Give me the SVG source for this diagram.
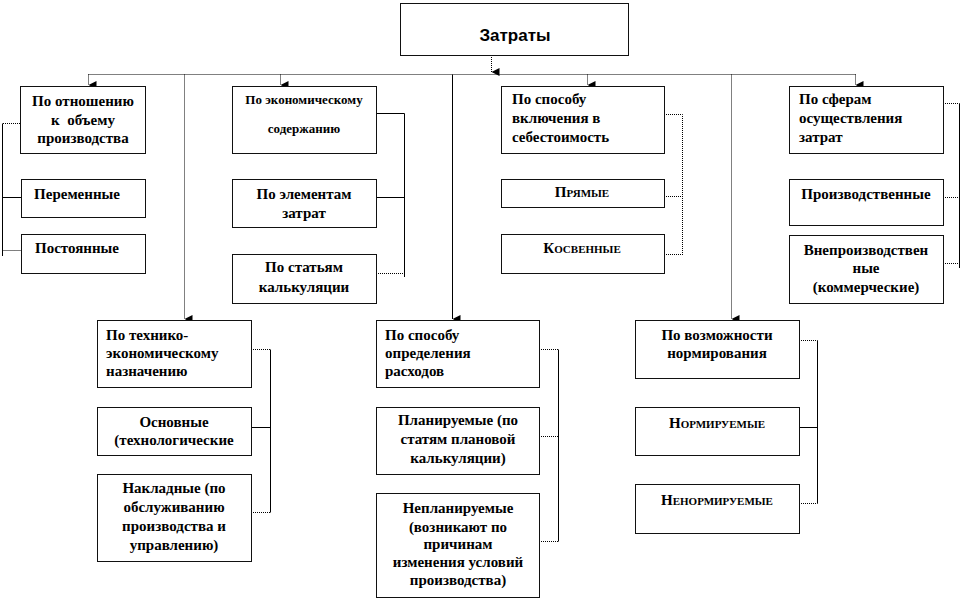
<svg xmlns="http://www.w3.org/2000/svg" width="962" height="602" viewBox="0 0 962 602">
<style>
.bx{fill:#fff;stroke:#111;stroke-width:1}
.t{font-family:"Liberation Serif","DejaVu Serif","Times New Roman",serif;font-weight:bold;font-size:15px;fill:#000}
.c{text-anchor:middle}
.sc{font-variant:small-caps}
.s{fill:none;stroke:#000;stroke-width:1}
.d{fill:none;stroke:#000;stroke-width:1;stroke-dasharray:1 1}
</style>
<defs>
<marker id="ah" viewBox="0 0 8 8" refX="4" refY="8" markerWidth="8" markerHeight="8" markerUnits="userSpaceOnUse" orient="auto-start-reverse">
<path d="M0,0 L8,0 L4,8 Z" fill="#000"/>
</marker>
</defs>
<g id="connectors">
<path class="d" d="M491.5,55 V72" marker-end="url(#ah)"/>
<path class="d" d="M88.5,74.5 H855.5"/>
<path class="d" d="M88.5,74.5 V85" marker-end="url(#ah)"/>
<path class="d" d="M280.5,74.5 V85" marker-end="url(#ah)"/>
<path class="d" d="M587.5,74.5 V85" marker-end="url(#ah)"/>
<path class="d" d="M855.5,74.5 V85" marker-end="url(#ah)"/>
<path class="d" d="M184.5,74.5 V319" marker-end="url(#ah)"/>
<path class="s" d="M452.5,74.5 V319" marker-end="url(#ah)"/>
<path class="d" d="M731.5,74.5 V319" marker-end="url(#ah)"/>
<path class="d" d="M20,123.5 H2.5"/>
<path class="s" d="M2.5,123.5 V256"/>
<path class="s" d="M2.5,197.5 H21"/>
<path class="d" d="M2.5,250.5 H21"/>
<path class="s" d="M376,113.5 H404.5 V277"/>
<path class="s" d="M376,197.5 H404.5"/>
<path class="d" d="M376,273.5 H404.5"/>
<path class="d" d="M664,114.5 H682.5 V256"/>
<path class="d" d="M664,196.5 H682.5"/>
<path class="d" d="M664,254.5 H682.5"/>
<path class="d" d="M943,103.5 H959.5"/>
<path class="s" d="M959.5,103.5 V268"/>
<path class="d" d="M943,197.5 H959.5"/>
<path class="d" d="M943,263.5 H959.5"/>
<path class="d" d="M251,349.5 H270.5"/>
<path class="s" d="M270.5,349.5 V512.5"/>
<path class="s" d="M251,427.5 H270.5"/>
<path class="d" d="M251,512.5 H270.5"/>
<path class="d" d="M539,349.5 H558.5"/>
<path class="s" d="M558.5,349.5 V541.5"/>
<path class="d" d="M539,436.5 H558.5"/>
<path class="d" d="M539,541.5 H558.5"/>
<path class="d" d="M799,340.5 H817.5"/>
<path class="s" d="M817.5,340.5 V503.5"/>
<path class="s" d="M799,427.5 H817.5"/>
<path class="d" d="M799,503.5 H817.5"/>
</g>
<g id="root">
<rect class="bx" x="400.5" y="3.5" width="228" height="52"/>
<text x="515" y="41" style="font-family:'Liberation Sans',Arial,sans-serif;font-weight:bold;font-size:17px" text-anchor="middle">Затраты</text>
</g>
<g id="a">
<rect class="bx" x="20.5" y="86.5" width="125" height="67"/>
<text class="t c" x="83" y="106">По отношению</text>
<text class="t c" x="83" y="125" xml:space="preserve">к  объему</text>
<text class="t c" x="83" y="143">производства</text>
</g>
<g id="a1">
<rect class="bx" x="21.5" y="179.5" width="124" height="38"/>
<text class="t c" x="77" y="199">Переменные</text>
</g>
<g id="a2">
<rect class="bx" x="21.5" y="234.5" width="124" height="39"/>
<text class="t c" x="77" y="253">Постоянные</text>
</g>
<g id="b">
<rect class="bx" x="232.5" y="86.5" width="144" height="67"/>
<text class="t c" x="304" y="104" style="font-size:13px">По экономическому</text>
<text class="t c" x="304" y="133" style="font-size:13px">содержанию</text>
</g>
<g id="b1">
<rect class="bx" x="232.5" y="179.5" width="144" height="48"/>
<text class="t c" x="304" y="199">По элементам</text>
<text class="t c" x="304" y="218">затрат</text>
</g>
<g id="b2">
<rect class="bx" x="232.5" y="254.5" width="144" height="49"/>
<text class="t c" x="304" y="272">По статьям</text>
<text class="t c" x="304" y="292">калькуляции</text>
</g>
<g id="c">
<rect class="bx" x="501.5" y="86.5" width="163" height="67"/>
<text class="t" x="512" y="104">По способу</text>
<text class="t" x="512" y="123">включения в</text>
<text class="t" x="512" y="142">себестоимость</text>
</g>
<g id="c1">
<rect class="bx" x="501.5" y="179.5" width="163" height="28"/>
<text class="t c sc" x="582" y="197">Прямые</text>
</g>
<g id="c2">
<rect class="bx" x="501.5" y="234.5" width="163" height="39"/>
<text class="t c sc" x="582" y="253">Косвенные</text>
</g>
<g id="d">
<rect class="bx" x="789.5" y="86.5" width="154" height="67"/>
<text class="t" x="799" y="104">По сферам</text>
<text class="t" x="799" y="123">осуществления</text>
<text class="t" x="799" y="142">затрат</text>
</g>
<g id="d1">
<rect class="bx" x="789.5" y="179.5" width="154" height="46"/>
<text class="t c" x="866" y="199">Производственные</text>
</g>
<g id="d2">
<rect class="bx" x="789.5" y="235.5" width="154" height="68"/>
<text class="t c" x="866" y="255">Внепроизводствен</text>
<text class="t c" x="866" y="273">ные</text>
<text class="t c" x="866" y="292">(коммерческие)</text>
</g>
<g id="e">
<rect class="bx" x="97.5" y="320.5" width="154" height="67"/>
<text class="t" x="106" y="340">По технико-</text>
<text class="t" x="106" y="358">экономическому</text>
<text class="t" x="106" y="376">назначению</text>
</g>
<g id="e1">
<rect class="bx" x="97.5" y="407.5" width="154" height="48"/>
<text class="t c" x="174" y="427">Основные</text>
<text class="t c" x="174" y="445">(технологические</text>
</g>
<g id="e2">
<rect class="bx" x="97.5" y="474.5" width="154" height="87"/>
<text class="t c" x="174" y="493">Накладные (по</text>
<text class="t c" x="174" y="512">обслуживанию</text>
<text class="t c" x="174" y="531">производства и</text>
<text class="t c" x="174" y="550">управлению)</text>
</g>
<g id="f">
<rect class="bx" x="376.5" y="320.5" width="163" height="67"/>
<text class="t" x="385" y="340">По способу</text>
<text class="t" x="385" y="358">определения</text>
<text class="t" x="385" y="376">расходов</text>
</g>
<g id="f1">
<rect class="bx" x="376.5" y="407.5" width="163" height="67"/>
<text class="t c" x="458" y="425">Планируемые (по</text>
<text class="t c" x="458" y="444">статям плановой</text>
<text class="t c" x="458" y="463">калькуляции)</text>
</g>
<g id="f2">
<rect class="bx" x="376.5" y="493.5" width="163" height="104"/>
<text class="t c" x="458" y="513">Непланируемые</text>
<text class="t c" x="458" y="532">(возникают по</text>
<text class="t c" x="458" y="549">причинам</text>
<text class="t c" x="458" y="567">изменения условий</text>
<text class="t c" x="458" y="585">производства)</text>
</g>
<g id="g">
<rect class="bx" x="635.5" y="320.5" width="164" height="58"/>
<text class="t c" x="717" y="340">По возможности</text>
<text class="t c" x="717" y="358">нормирования</text>
</g>
<g id="g1">
<rect class="bx" x="635.5" y="407.5" width="164" height="48"/>
<text class="t c sc" x="717" y="428">Нормируемые</text>
</g>
<g id="g2">
<rect class="bx" x="635.5" y="484.5" width="164" height="49"/>
<text class="t c sc" x="717" y="505">Ненормируемые</text>
</g>
</svg>
